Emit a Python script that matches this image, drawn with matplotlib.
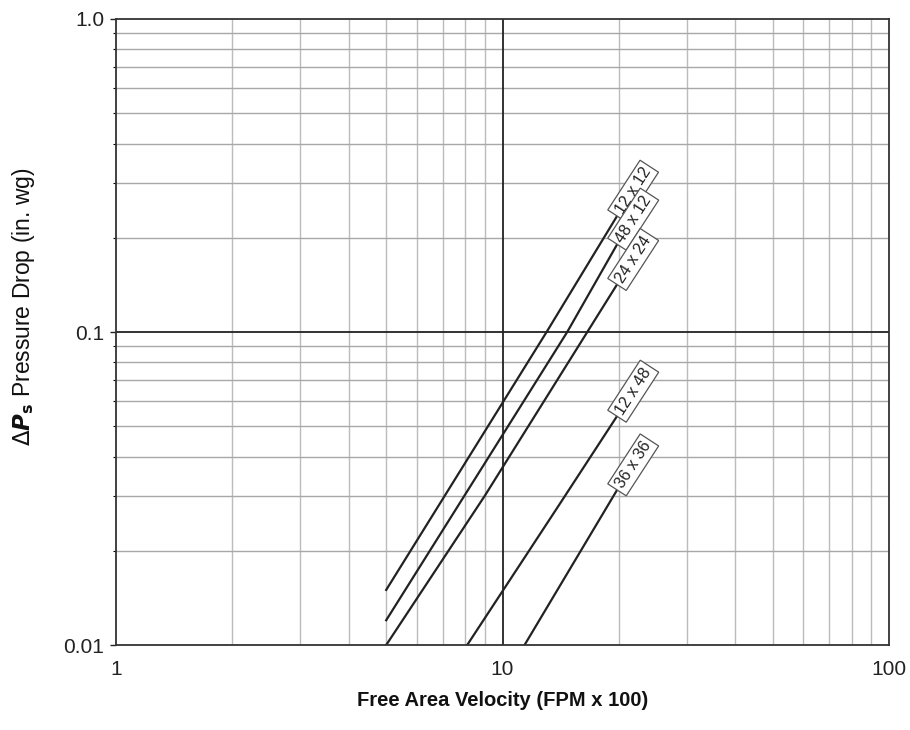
import matplotlib
matplotlib.use("Agg")
import matplotlib.pyplot as plt
from matplotlib.ticker import FixedLocator, NullFormatter

plt.rcParams['font.family'] = ['Liberation Sans', 'DejaVu Sans']

# free area velocity (FPM x 100) vs static pressure drop (in. wg), per grille size
sizes = ["12 x 12", "48 x 12", "24 x 24", "12 x 48", "36 x 36"]
vel = [
    [5.0, 13.0, 20.0],
    [5.0, 14.7, 20.0],
    [5.0, 9.0, 20.0],
    [8.1, 14.0, 20.0],
    [11.4, 20.0],
]
dp = [
    [0.015, 0.100, 0.240],
    [0.012, 0.100, 0.195],
    [0.010, 0.030, 0.145],
    [0.010, 0.028, 0.055],
    [0.010, 0.032],
]

x_ticks = [1, 10, 100]
x_tick_labels = ["1", "10", "100"]
y_ticks = [0.01, 0.1, 1.0]
y_tick_labels = ["0.01", "0.1", "1.0"]

fig = plt.figure(figsize=(9.1, 7.3), dpi=100)
ax = fig.add_axes([0.1275, 0.1164, 0.8495, 0.8576])
ax.set_xscale("log")
ax.set_yscale("log")
ax.set_xlim(1, 100)
ax.set_ylim(0.01, 1.0)

# grid: light minor lines, dark major lines
xminor = [m * d for d in (1, 10) for m in range(2, 10)]
yminor = [m * d for d in (0.01, 0.1) for m in range(2, 10)]
for v in xminor:
    ax.axvline(v, color="#bcbcbc", lw=1.0, zorder=1)
for v in yminor:
    ax.axhline(v, color="#a8a8a8", lw=1.0, zorder=1)
ax.axvline(10, color="#222222", lw=1.3, zorder=1.5)
ax.axhline(0.1, color="#222222", lw=1.3, zorder=1.5)

for name, xs, ys in zip(sizes, vel, dp):
    ax.plot(xs, ys, color="#222222", lw=1.6, zorder=3)
    ax.text(xs[-1], ys[-1], name, rotation=57, rotation_mode="anchor",
            ha="left", va="center", fontsize=11.5, color="#222222", zorder=4,
            bbox=dict(boxstyle="square,pad=0.22", fc="white", ec="#555555", lw=0.9))

ax.xaxis.set_major_locator(FixedLocator(x_ticks))
ax.set_xticklabels(x_tick_labels)
ax.xaxis.set_minor_formatter(NullFormatter())
ax.yaxis.set_major_locator(FixedLocator(y_ticks))
ax.set_yticklabels(y_tick_labels)
ax.yaxis.set_minor_locator(FixedLocator(yminor))
ax.yaxis.set_minor_formatter(NullFormatter())
ax.tick_params(axis="x", which="both", length=0, labelsize=15, pad=11, colors="#222222")
ax.tick_params(axis="y", which="major", length=4, width=1, labelsize=15, pad=4.5, colors="#222222")
ax.tick_params(axis="y", which="minor", length=2.5, width=0.8)

for s in ax.spines.values():
    s.set_color("#333333")
    s.set_linewidth(1.3)
    s.set_zorder(5)

ax.set_xlabel("Free Area Velocity (FPM x 100)", fontsize=14.5, fontweight="bold",
              color="#111111")
ax.xaxis.set_label_coords(0.5, -0.074)
ax.set_ylabel(r"$\Delta\boldsymbol{P}_{\mathbf{s}}$ Pressure Drop (in. wg)", fontsize=16.5,
              color="#111111")
ax.yaxis.set_label_coords(-0.102, 0.54)

fig.savefig("out.png", dpi=100)
